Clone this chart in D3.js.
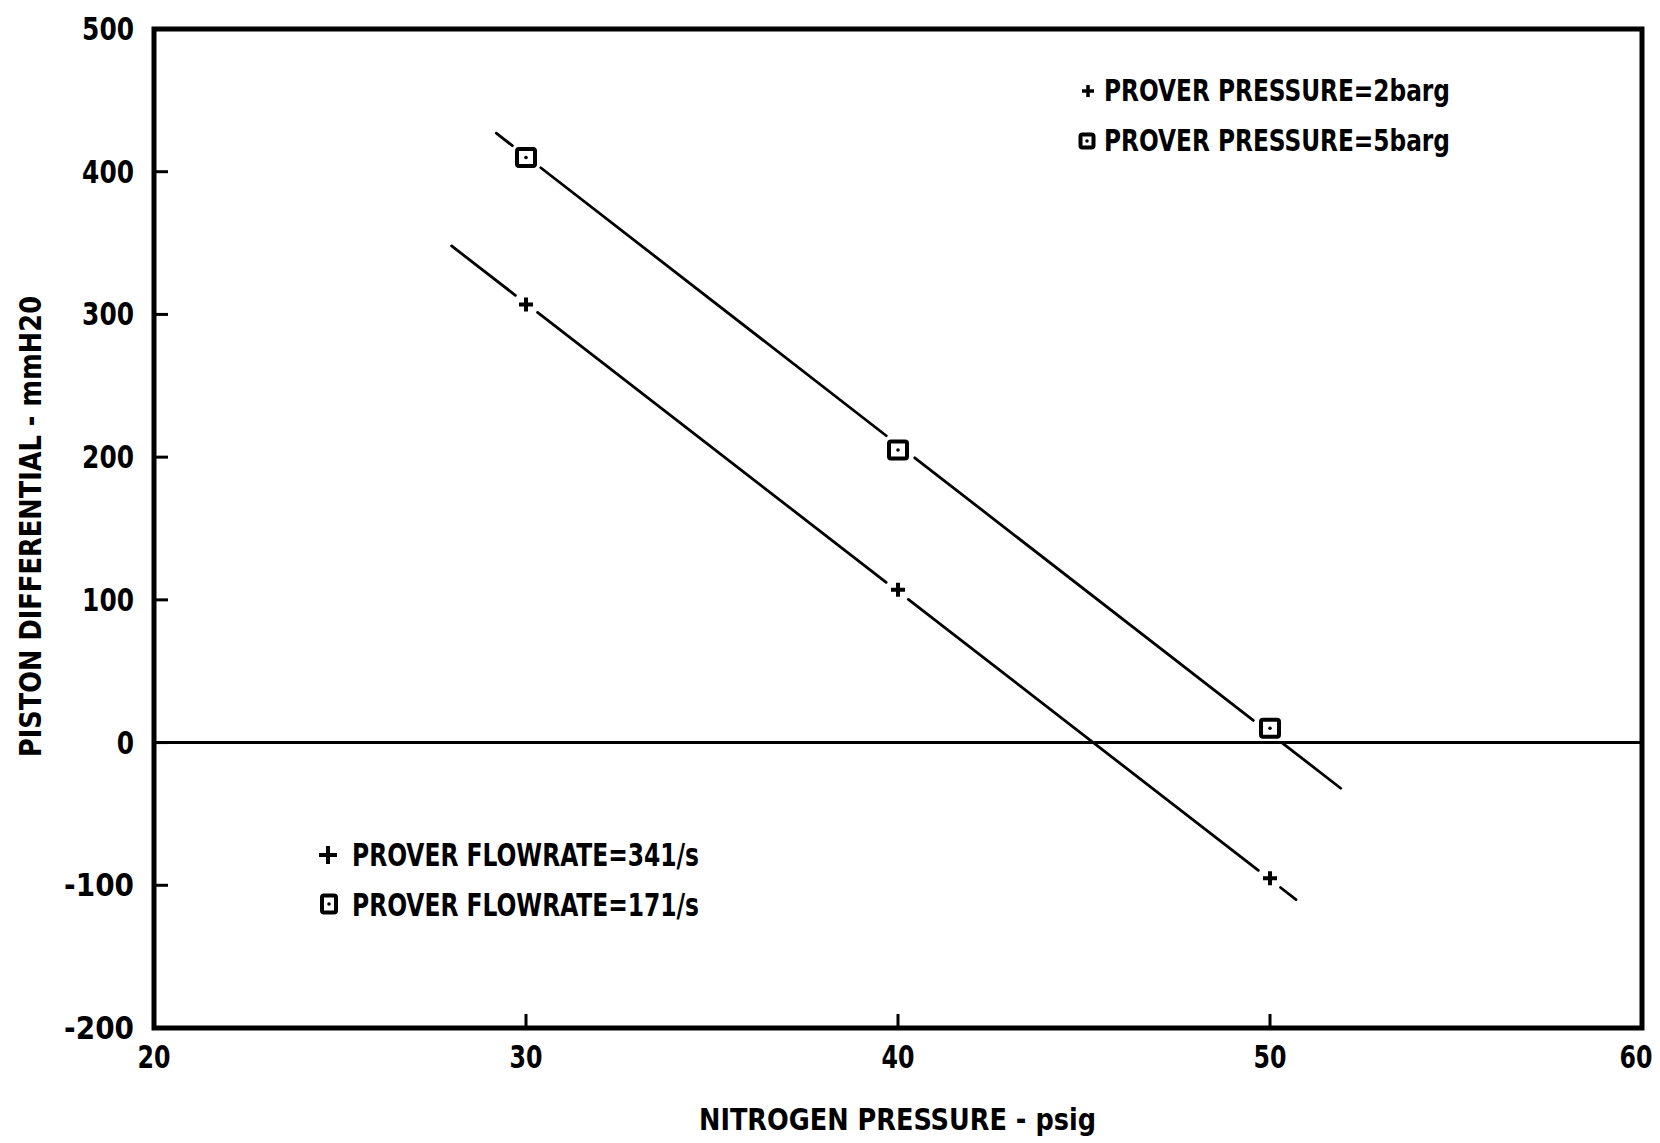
<!DOCTYPE html>
<html><head><meta charset="utf-8">
<script src="https://cdn.jsdelivr.net/npm/d3@7"></script>
<style>body{margin:0;background:#fff}</style>
</head><body>
<svg id="c" width="1660" height="1143"></svg>
<script>
// ---- data ----
const xTicks = [20, 30, 40, 50, 60];
const yTicks = [-200, -100, 0, 100, 200, 300, 400, 500];
const nitrogenPressure = [30, 40, 50];
const diff2barg = [307, 107, -95];   // "+" : prover pressure 2 barg / flowrate 34 l/s
const diff5barg = [410, 205, 10];    // square : prover pressure 5 barg / flowrate 17 l/s
const fit2bargX = [28.0, 50.7];
const fit2bargY = [348, -110];
const fit5bargX = [29.2, 51.9];
const fit5bargY = [427, -32];
const legendTop = ["PROVER PRESSURE=2barg", "PROVER PRESSURE=5barg"];
const legendBottom = ["PROVER FLOWRATE=341/s", "PROVER FLOWRATE=171/s"];
const xTitle = "NITROGEN PRESSURE - psig";
const yTitle = "PISTON DIFFERENTIAL - mmH20";

// ---- layout ----
const L = 154, R = 1642, T = 29, B = 1028;
const FONT = "'Liberation Sans Narrow','DejaVu Sans Condensed','Arial Narrow',sans-serif";
const svg = d3.select("#c");
const x = d3.scaleLinear().domain([20, 60]).range([L, R]);
const y = d3.scaleLinear().domain([-200, 500]).range([B, T]);

// ticks (inward)
const g = svg.append("g");
g.selectAll("line.yt").data(yTicks).enter().append("line")
  .attr("x1", L).attr("x2", L + 14).attr("y1", d => y(d)).attr("y2", d => y(d))
  .attr("stroke", "#000").attr("stroke-width", 3);
g.selectAll("line.xt").data(xTicks).enter().append("line")
  .attr("x1", d => x(d)).attr("x2", d => x(d)).attr("y1", B).attr("y2", B - 14)
  .attr("stroke", "#000").attr("stroke-width", 3);

// zero line
svg.append("line").attr("x1", L).attr("x2", R).attr("y1", y(0)).attr("y2", y(0))
  .attr("stroke", "#000").attr("stroke-width", 3);

// frame
svg.append("rect").attr("x", L).attr("y", T).attr("width", R - L).attr("height", B - T)
  .attr("fill", "none").attr("stroke", "#000").attr("stroke-width", 5);

// tick labels
svg.selectAll("text.yl").data(yTicks).enter().append("text")
  .attr("x", 134).attr("y", d => y(d) + 11).attr("text-anchor", "end")
  .attr("font-family", FONT).attr("font-weight", "bold").attr("font-size", 32)
  .attr("textLength", d => String(d).replace("-", "").length * 17.3 + (d < 0 ? 18 : 0))
  .attr("lengthAdjust", "spacingAndGlyphs")
  .text(d => d);
svg.selectAll("text.xl").data(xTicks).enter().append("text")
  .attr("x", d => x(d) - (d === 60 ? 6 : 0)).attr("y", 1068).attr("text-anchor", "middle")
  .attr("font-family", FONT).attr("font-weight", "bold").attr("font-size", 32)
  .attr("textLength", 33).attr("lengthAdjust", "spacingAndGlyphs")
  .text(d => d);

// axis titles
svg.append("text").attr("x", 699).attr("y", 1130)
  .attr("font-family", FONT).attr("font-weight", "bold").attr("font-size", 30)
  .attr("textLength", 397).attr("lengthAdjust", "spacingAndGlyphs").text(xTitle);
svg.append("text").attr("transform", "translate(41,757) rotate(-90)")
  .attr("font-family", FONT).attr("font-weight", "bold").attr("font-size", 31)
  .attr("textLength", 461).attr("lengthAdjust", "spacingAndGlyphs").text(yTitle);

// fit lines with gaps around markers
function brokenLine(xs, ys, px, py, gap) {
  const x0 = x(xs[0]), y0 = y(ys[0]), x1 = x(xs[1]), y1 = y(ys[1]);
  const len = Math.hypot(x1 - x0, y1 - y0);
  const ux = (x1 - x0) / len, uy = (y1 - y0) / len;
  const cuts = px.map((d, i) => {
    const t = (x(d) - x0) * ux + (y(py[i]) - y0) * uy;
    return [t - gap, t + gap];
  }).sort((a, b) => a[0] - b[0]);
  let segs = [], s = 0;
  cuts.forEach(c => { if (c[0] > s) segs.push([s, c[0]]); s = Math.max(s, c[1]); });
  if (s < len) segs.push([s, len]);
  svg.append("g").selectAll("line").data(segs).enter().append("line")
    .attr("x1", d => x0 + ux * d[0]).attr("y1", d => y0 + uy * d[0])
    .attr("x2", d => x0 + ux * d[1]).attr("y2", d => y0 + uy * d[1])
    .attr("stroke", "#000").attr("stroke-width", 2.8).attr("stroke-linecap", "round");
}
brokenLine(fit5bargX, fit5bargY, nitrogenPressure, diff5barg, 18);
brokenLine(fit2bargX, fit2bargY, nitrogenPressure, diff2barg, 14);

// markers
function square(cx, cy, w, h) {
  svg.append("rect").attr("x", cx - w / 2).attr("y", cy - h / 2).attr("width", w).attr("height", h)
    .attr("rx", 2).attr("fill", "none").attr("stroke", "#000").attr("stroke-width", 4);
  svg.append("circle").attr("cx", cx).attr("cy", cy).attr("r", 1.8).attr("fill", "#000");
}
function plus(cx, cy, s, sw) {
  svg.append("path").attr("d", `M${cx - s / 2},${cy}H${cx + s / 2}M${cx},${cy - s / 2}V${cy + s / 2}`)
    .attr("stroke", "#000").attr("stroke-width", sw).attr("fill", "none");
}
nitrogenPressure.forEach((d, i) => square(x(d), y(diff5barg[i]), 18, 17));
nitrogenPressure.forEach((d, i) => plus(x(d), y(diff2barg[i]), 14, 4));

// legend (top right)
plus(1088, 91, 12, 3.5);
square(1087, 141, 13, 13);
svg.selectAll("text.lt").data(legendTop).enter().append("text")
  .attr("x", 1104).attr("y", (d, i) => 101 + i * 50)
  .attr("font-family", FONT).attr("font-weight", "bold").attr("font-size", 30)
  .attr("textLength", 346).attr("lengthAdjust", "spacingAndGlyphs").text(d => d);

// legend (bottom left)
plus(328, 855, 18, 4);
square(329, 904, 14, 17);
svg.selectAll("text.lb").data(legendBottom).enter().append("text")
  .attr("x", 352).attr("y", (d, i) => 866 + i * 50)
  .attr("font-family", FONT).attr("font-weight", "bold").attr("font-size", 32)
  .attr("textLength", 347).attr("lengthAdjust", "spacingAndGlyphs").text(d => d);
</script>
</body></html>
